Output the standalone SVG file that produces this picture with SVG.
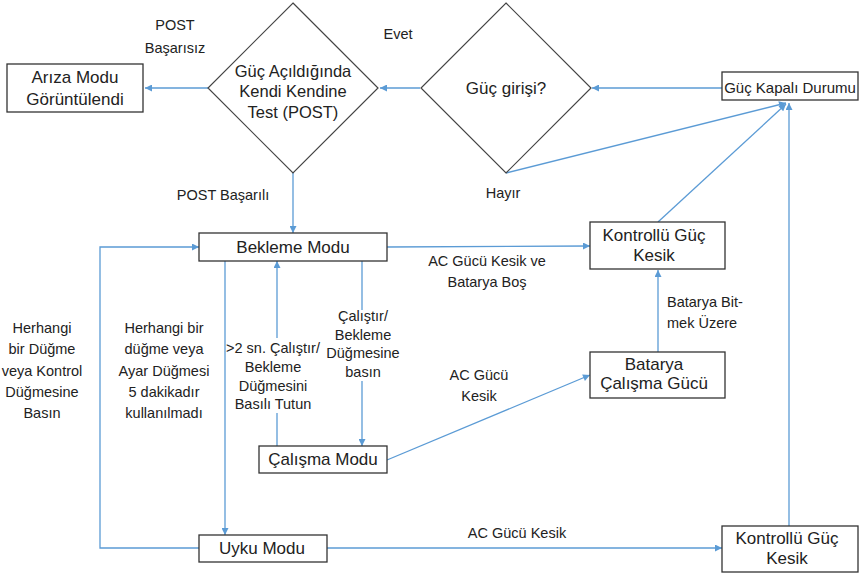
<svg xmlns="http://www.w3.org/2000/svg" width="860" height="575" viewBox="0 0 860 575">
<defs>
<marker id="ah" viewBox="0 0 10 10" refX="10" refY="5" markerWidth="8" markerHeight="7" markerUnits="userSpaceOnUse" orient="auto">
<path d="M0,0 L10,5 L0,10 z" fill="#5b9bd5"/>
</marker>
<style>
.box{fill:#fff;stroke:#333;stroke-width:1.3}
.dia{fill:#fff;stroke:#444;stroke-width:1.2}
.n{font-family:"Liberation Sans",Arial,sans-serif;font-size:17px;fill:#222;text-anchor:middle}
.d{font-family:"Liberation Sans",Arial,sans-serif;font-size:16.5px;fill:#222;text-anchor:middle}
.l{font-family:"Liberation Sans",Arial,sans-serif;font-size:14.5px;fill:#222;text-anchor:middle}
.c{fill:none;stroke:#5b9bd5;stroke-width:1.3}
.a{marker-end:url(#ah)}
</style>
</defs>
<rect width="860" height="575" fill="#fff"/>
<g id="connectors">
<path class="c a" d="M208,88 H145"/>
<path class="c a" d="M420,88 H380"/>
<path class="c a" d="M722,88 H592"/>
<path class="c a" d="M293,173 V233"/>
<path class="c a" d="M506,173 L786,103"/>
<path class="c a" d="M658,222 L786,104"/>
<path class="c a" d="M789,526 V103"/>
<path class="c a" d="M387,247 L590,246"/>
<path class="c a" d="M658,352 V270"/>
<path class="c a" d="M387,460 L590,375"/>
<path class="c a" d="M327,548 H722"/>
<path class="c a" d="M199,548 H100 V247 H199"/>
<path class="c a" d="M225,261 V535"/>
<path class="c" d="M277,446 V413"/>
<path class="c a" d="M277,338 V261"/>
<path class="c" d="M362,261 V310"/>
<path class="c a" d="M362,381 V446"/>
</g>
<g id="ariza">
<rect class="box" x="7" y="64" width="136" height="48"/>
<text class="n" x="75" y="83">Arıza Modu</text>
<text class="n" x="75" y="105">Görüntülendi</text>
</g>
<g id="post">
<polygon class="dia" points="293,3 378,88 293,173 208,88"/>
<text class="d" x="293" y="77">Güç Açıldığında</text>
<text class="d" x="293" y="97">Kendi Kendine</text>
<text class="d" x="293" y="118">Test (POST)</text>
</g>
<g id="guc-girisi">
<polygon class="dia" points="506,3 591,88 506,173 421,88"/>
<text class="n" x="506" y="94">Güç girişi?</text>
</g>
<g id="guc-kapali">
<rect class="box" x="722" y="72" width="136" height="28"/>
<text class="n" x="790" y="93" style="font-size:15px">Güç Kapalı Durumu</text>
</g>
<g id="bekleme">
<rect class="box" x="199" y="233" width="188" height="28"/>
<text class="n" x="293" y="253">Bekleme Modu</text>
</g>
<g id="kontrollu1">
<rect class="box" x="590" y="222" width="135" height="47"/>
<text class="n" x="654" y="241">Kontrollü Güç</text>
<text class="n" x="654" y="261">Kesik</text>
</g>
<g id="batarya">
<rect class="box" x="590" y="352" width="135" height="46"/>
<text class="n" x="654" y="370">Batarya</text>
<text class="n" x="654" y="389">Çalışma Gücü</text>
</g>
<g id="calisma">
<rect class="box" x="259" y="446" width="128" height="27"/>
<text class="n" x="323" y="465">Çalışma Modu</text>
</g>
<g id="uyku">
<rect class="box" x="199" y="535" width="128" height="27"/>
<text class="n" x="262" y="554">Uyku Modu</text>
</g>
<g id="kontrollu2">
<rect class="box" x="722" y="526" width="136" height="46"/>
<text class="n" x="787" y="544">Kontrollü Güç</text>
<text class="n" x="787" y="564">Kesik</text>
</g>
<g id="labels">
<text class="l" x="175" y="30">POST</text>
<text class="l" x="175" y="53">Başarısız</text>
<text class="l" x="398" y="39">Evet</text>
<text class="l" x="223" y="200">POST Başarılı</text>
<text class="l" x="503" y="198">Hayır</text>
<text class="l" x="487" y="266">AC Gücü Kesik ve</text>
<text class="l" x="487" y="287">Batarya Boş</text>
<text class="l" x="667" y="307" style="text-anchor:start">Batarya Bit-</text>
<text class="l" x="667" y="328" style="text-anchor:start">mek Üzere</text>
<text class="l" x="479" y="380">AC Gücü</text>
<text class="l" x="479" y="401">Kesik</text>
<text class="l" x="517" y="538">AC Gücü Kesik</text>
<text class="l" x="42" y="333">Herhangi</text>
<text class="l" x="42" y="354">bir Düğme</text>
<text class="l" x="42" y="376">veya Kontrol</text>
<text class="l" x="42" y="397">Düğmesine</text>
<text class="l" x="42" y="418">Basın</text>
<text class="l" x="164" y="333">Herhangi bir</text>
<text class="l" x="164" y="354">düğme veya</text>
<text class="l" x="164" y="376">Ayar Düğmesi</text>
<text class="l" x="164" y="397">5 dakikadır</text>
<text class="l" x="164" y="418">kullanılmadı</text>
<text class="l" x="273" y="353">&gt;2 sn. Çalıştır/</text>
<text class="l" x="273" y="372">Bekleme</text>
<text class="l" x="273" y="391">Düğmesini</text>
<text class="l" x="273" y="409">Basılı Tutun</text>
<text class="l" x="363" y="321">Çalıştır/</text>
<text class="l" x="363" y="340">Bekleme</text>
<text class="l" x="363" y="358">Düğmesine</text>
<text class="l" x="363" y="377">basın</text>
</g>
</svg>
